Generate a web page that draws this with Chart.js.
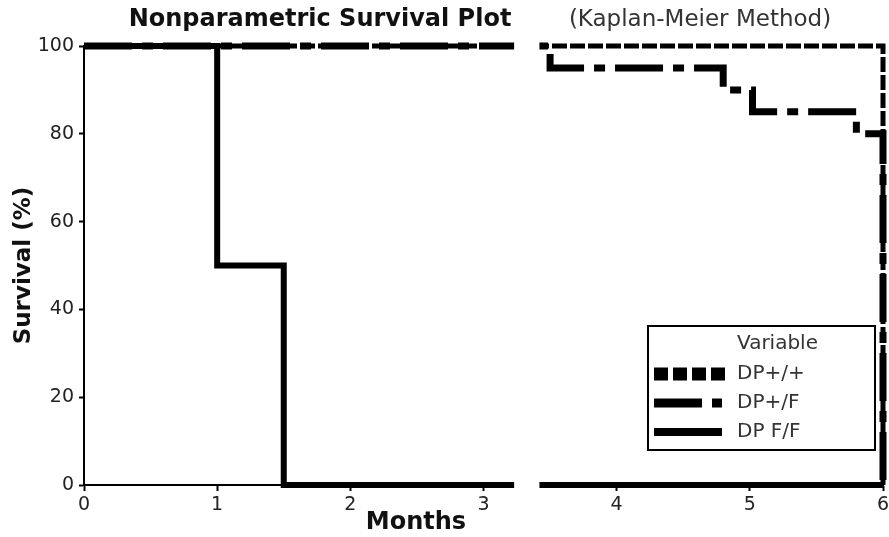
<!DOCTYPE html>
<html>
<head>
<meta charset="utf-8">
<script src="https://cdn.jsdelivr.net/npm/chart.js@4/dist/chart.umd.min.js"></script>
<style>
  html, body { margin: 0; padding: 0; background: #fff; }
  #wrap { width: 889px; height: 537px; }
</style>
</head>
<body>
<div id="wrap"><canvas id="kmChart" width="889" height="537"></canvas></div>
<script>
// survival (%) by month, one step series per genotype
const seriesNames = ["DP+/+", "DP+/F", "DP F/F"];
const dpPlusPlusMonths = [0, 6];
const dpPlusPlusSurv = [100, 0];
const dpPlusFMonths = [0, 3.5, 4.8, 5.02, 5.8, 6];
const dpPlusFSurv = [100, 95, 90, 85, 80, 0];
const dpFFMonths = [0, 1, 1.5, 6];
const dpFFSurv = [100, 50, 0, 0];

const xTicks = [0, 1, 2, 3, 4, 5, 6];
const yTicks = [0, 20, 40, 60, 80, 100];
const axisBreak = [3.23, 3.42];   // months hidden by the broken axis

function toPoints(xs, ys) {
    return xs.map((x, i) => ({ x: x, y: ys[i] }));
}

const FONT = "'DejaVu Sans', Verdana, sans-serif";

var extras = {
    id: 'extras',
    afterDatasetsDraw(chart) {
        const ctx = chart.ctx;
        const xs = chart.scales.x;
        const area = chart.chartArea;
        // blank out the break in the time axis
        let x0 = xs.getPixelForValue(axisBreak[0]);
        let x1 = xs.getPixelForValue(axisBreak[1]);
        ctx.save();
        ctx.fillStyle = '#fff';
        ctx.fillRect(x0, area.top - 8, x1 - x0, area.bottom - area.top + 12);
        ctx.restore();
    },
    afterDraw(chart) {
        const ctx = chart.ctx;
        ctx.save();
        ctx.fillStyle = '#111';
        ctx.textBaseline = 'middle';
        ctx.textAlign = 'center';
        ctx.font = 'bold 24px ' + FONT;
        ctx.fillText('Nonparametric Survival Plot', 320, 20);
        ctx.fillStyle = '#333';
        ctx.font = '23px ' + FONT;
        ctx.fillText('(Kaplan-Meier Method)', 700, 20);
        ctx.fillStyle = '#111';
        ctx.font = 'bold 24px ' + FONT;
        ctx.fillText('Months', 416, 523);

        // legend box
        ctx.strokeStyle = '#000';
        ctx.lineWidth = 2;
        ctx.strokeRect(648, 326, 227, 124);
        ctx.textAlign = 'left';
        ctx.font = '20px ' + FONT;
        ctx.fillStyle = '#333';
        ctx.fillText('Variable', 737, 344);
        const rows = [374, 403, 432];
        const samples = [
            { dash: [14, 5], width: 13, len: 71 },
            { dash: [48, 10, 10, 40], width: 9, len: 68 },
            { dash: [], width: 8, len: 68 }
        ];
        seriesNames.forEach((name, i) => {
            ctx.beginPath();
            ctx.strokeStyle = '#000';
            ctx.setLineDash(samples[i].dash);
            ctx.lineWidth = samples[i].width;
            ctx.moveTo(654, rows[i]);
            ctx.lineTo(654 + samples[i].len, rows[i]);
            ctx.stroke();
            ctx.setLineDash([]);
            ctx.fillText(name, 737, rows[i]);
        });
        ctx.restore();
    }
};

var ctx = document.getElementById('kmChart');
var kmChart = new Chart(ctx, {
    type: 'line',
    data: {
        datasets: [{
            label: seriesNames[0],
            data: toPoints(dpPlusPlusMonths, dpPlusPlusSurv),
            borderColor: '#000',
            borderWidth: 5,
            borderDash: [15, 3],
            stepped: true,
            pointRadius: 0,
            clip: false,
            fill: false
        }, {
            label: seriesNames[1],
            data: toPoints(dpPlusFMonths, dpPlusFSurv),
            borderColor: '#000',
            borderWidth: 7,
            borderDash: [48, 10, 11, 10],
            stepped: true,
            pointRadius: 0,
            clip: false,
            fill: false
        }, {
            label: seriesNames[2],
            data: toPoints(dpFFMonths, dpFFSurv),
            borderColor: '#000',
            borderWidth: 6,
            stepped: true,
            pointRadius: 0,
            clip: false,
            fill: false
        }]
    },
    options: {
        responsive: false,
        animation: false,
        layout: { padding: { left: 0, top: 46, right: 0, bottom: 0 } },
        plugins: {
            legend: { display: false },
            title: { display: false },
            tooltip: { enabled: false }
        },
        scales: {
            x: {
                type: 'linear',
                min: 0,
                max: 6,
                afterBuildTicks(scale) { scale.ticks = xTicks.map(v => ({ value: v })); },
                afterFit(scale) {
                    scale.height = 52;
                    scale.paddingLeft = 0;
                    scale.paddingRight = 6;
                },
                grid: { drawOnChartArea: false, drawTicks: true, tickLength: 6, color: '#000', tickWidth: 2 },
                border: { display: true, color: '#000', width: 2 },
                ticks: { color: '#222', padding: 3, font: { family: FONT, size: 19 } }
            },
            y: {
                min: 0,
                max: 100,
                afterBuildTicks(scale) { scale.ticks = yTicks.map(v => ({ value: v })); },
                afterFit(scale) { scale.width = 84; },
                grid: { drawOnChartArea: false, drawTicks: true, tickLength: 5, color: '#000', tickWidth: 2 },
                border: { display: true, color: '#000', width: 2 },
                ticks: { color: '#222', padding: 5, font: { family: FONT, size: 19 } },
                title: {
                    display: true,
                    text: 'Survival (%)',
                    color: '#111',
                    padding: { top: 10, bottom: 4 },
                    font: { family: FONT, size: 23, weight: 'bold' }
                }
            }
        }
    },
    plugins: [extras]
});
</script>
</body>
</html>
